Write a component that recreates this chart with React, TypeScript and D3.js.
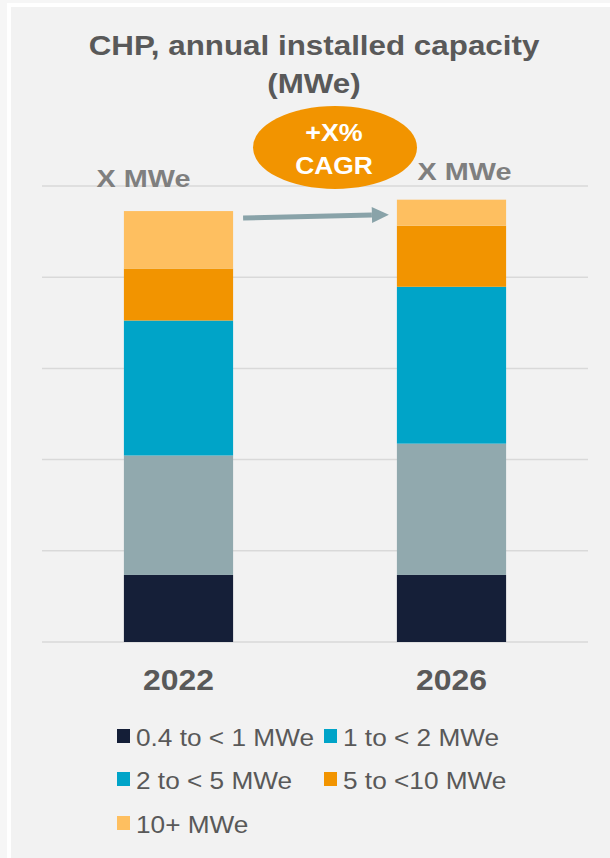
import React, { useEffect } from 'react';
import * as d3 from 'd3';

// data (units of the hidden value axis)
const years = ['2022', '2026'];
const seriesNames = ['0.4 to < 1 MWe', '1 to < 2 MWe', '2 to < 5 MWe', '5 to <10 MWe', '10+ MWe'];
const values2022 = [7.35, 13.1, 14.8, 5.7, 6.3];
const values2026 = [7.35, 14.4, 17.2, 6.7, 2.85];
const yTicks = [0, 10, 20, 30, 40, 50];
const totalLabels = ['X MWe', 'X MWe'];

// bar fills and the legend swatches (the legend repeats the teal for 1 to < 2)
const barColors = ['#151f38', '#91a9ae', '#00a4c8', '#f29400', '#febf60'];
const legendColors = ['#141e37', '#00a4c8', '#00a4c8', '#f29400', '#febf60'];

const W = 610;
const H = 858;
const FONT = '"Liberation Sans", Arial, sans-serif';

const rows = years.map((year, i) => {
  const vals = i === 0 ? values2022 : values2026;
  const row: any = { year };
  seriesNames.forEach((s, j) => (row[s] = vals[j]));
  return row;
});

// text that is a little wider than the font, as in the source image
const Txt = ({ x, y, sx = 1.14, children, ...rest }: any) => (
  <text transform={`translate(${x},${y}) scale(${sx},1)`} fontFamily={FONT} {...rest}>
    {children}
  </text>
);

export default function App() {
  useEffect(() => {
    document.body.style.margin = '0';
  }, []);

  const x = d3.scaleBand().domain(years).range([42, 588]).paddingInner(0.6).paddingOuter(0.3);
  const y = d3.scaleLinear().domain([0, 50]).range([642, 186]);
  const stacked = d3.stack().keys(seriesNames)(rows);
  const totals = rows.map((r) => d3.sum(seriesNames, (s) => r[s]));

  const bw = x.bandwidth();
  const x0 = x(years[0])!;
  const x1 = x(years[1])!;

  // arrow between the bar tops
  const ax1 = x0 + bw + 10;
  const ax2 = x1 - 8;
  const ay1 = y(totals[0]) + 7;
  const ay2 = y(totals[1]) + 15;
  const headLen = 17;
  const ang = Math.atan2(ay2 - ay1, ax2 - ax1);
  const hx = ax2 - headLen * Math.cos(ang);
  const hy = ay2 - headLen * Math.sin(ang);
  const nx = -Math.sin(ang) * 8;
  const ny = Math.cos(ang) * 8;

  const cx = (x0 + bw + x1) / 2 + 20;

  const legendRows = [
    [0, 1],
    [2, 3],
    [4],
  ];
  const legendCols = [117, 324];
  const legendBase = [746, 789, 833];

  return (
    <svg width={W} height={H} style={{ display: 'block' }}>
      <rect x={0} y={0} width={W} height={H} fill="#f6f6f6" />
      <rect x={7} y={3} width={W - 7} height={H - 3} fill="#ffffff" />
      <rect x={11} y={7} width={W - 11} height={H - 7} fill="#f2f2f2" />

      <Txt x={314} y={55} sx={1.12} textAnchor="middle" fontSize={28} fontWeight="bold" fill="#595959">
        CHP, annual installed capacity
      </Txt>
      <Txt x={314} y={93} sx={1.12} textAnchor="middle" fontSize={28} fontWeight="bold" fill="#595959">
        (MWe)
      </Txt>

      {yTicks.map((t) => (
        <line key={t} x1={42} x2={588} y1={y(t)} y2={y(t)} stroke="#d9d9d9" strokeWidth={1.5} />
      ))}

      {stacked.map((layer, i) => (
        <g key={layer.key} fill={barColors[i]}>
          {layer.map((d: any) => (
            <rect
              key={d.data.year}
              x={x(d.data.year)}
              y={y(d[1])}
              width={bw}
              height={y(d[0]) - y(d[1])}
            />
          ))}
        </g>
      ))}

      {years.map((yr) => (
        <Txt key={yr} x={x(yr)! + bw / 2} y={690} sx={1.1} textAnchor="middle" fontSize={29} fontWeight="bold" fill="#595959">
          {yr}
        </Txt>
      ))}

      {years.map((yr, i) => (
        <Txt
          key={'t' + yr}
          x={x(yr)! + bw / 2 + (i === 0 ? -35 : 13)}
          y={i === 0 ? 187 : 180}
          sx={1.2}
          textAnchor="middle"
          fontSize={24}
          fontWeight="bold"
          fill="#7f7f7f"
        >
          {totalLabels[i]}
        </Txt>
      ))}

      <line x1={ax1} y1={ay1} x2={hx} y2={hy} stroke="#89a3a9" strokeWidth={5} />
      <path
        d={`M${ax2},${ay2}L${hx + nx},${hy + ny}L${hx - nx},${hy - ny}Z`}
        fill="#89a3a9"
      />

      <ellipse cx={cx} cy={147.5} rx={82} ry={41.5} fill="#f29400" />
      <Txt x={cx - 1} y={141} sx={1.12} textAnchor="middle" fontSize={24} fontWeight="bold" fill="#ffffff">
        +X%
      </Txt>
      <Txt x={cx - 1} y={174} sx={1.1} textAnchor="middle" fontSize={24} fontWeight="bold" fill="#ffffff">
        CAGR
      </Txt>

      {legendRows.map((r, ri) =>
        r.map((si, ci) => (
          <g key={seriesNames[si]}>
            <rect x={legendCols[ci]} y={legendBase[ri] - 17} width={13} height={14} fill={legendColors[si]} />
            <Txt x={legendCols[ci] + 19} y={legendBase[ri]} fontSize={23} fill="#595959">
              {seriesNames[si]}
            </Txt>
          </g>
        ))
      )}
    </svg>
  );
}
